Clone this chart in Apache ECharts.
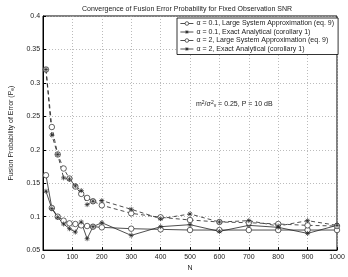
<!DOCTYPE html>
<html>
<head>
<meta charset="utf-8">
<script src="https://cdn.jsdelivr.net/npm/echarts@6/dist/echarts.min.js"></script>
<style>
html,body{margin:0;padding:0;background:#fff;}
#c{width:348px;height:277px;}
</style>
</head>
<body>
<div id="c"></div>
<script>
const N = [10,30,50,70,90,110,130,150,170,200,300,400,500,600,700,800,900,1000];
const a01Approx = [0.162,0.113,0.100,0.094,0.090,0.089,0.087,0.086,0.085,0.084,0.082,0.081,0.080,0.080,0.080,0.080,0.080,0.080];
const a01Exact  = [0.138,0.112,0.099,0.089,0.082,0.077,0.092,0.067,0.085,0.091,0.072,0.085,0.088,0.078,0.087,0.084,0.075,0.087];
const a2Approx  = [0.320,0.234,0.193,0.172,0.157,0.145,0.134,0.128,0.123,0.117,0.105,0.099,0.095,0.092,0.091,0.089,0.087,0.086];
const a2Exact   = [0.320,0.222,0.193,0.158,0.156,0.146,0.139,0.118,0.123,0.124,0.111,0.097,0.104,0.092,0.094,0.086,0.094,0.087];
const seriesNames = [
  'α = 0.1, Large System Approximation (eq. 9)',
  'α = 0.1, Exact Analytical (corollary 1)',
  'α = 2, Large System Approximation (eq. 9)',
  'α = 2, Exact Analytical (corollary 1)'
];
const titleText = 'Convergence of Fusion Error Probability for Fixed Observation SNR';

const FONT = '"Liberation Sans", Arial, sans-serif';
const STAR = 'path://M0,-5L0,5M-5,0L5,0M-3.6,-3.6L3.6,3.6M-3.6,3.6L3.6,-3.6';
const LC = '#222';

function pts(ys){ return N.map((n,i)=>[n, ys[i]]); }
function mk(name, ys, sym, dashed){
  const circle = sym === 'circle';
  return {
    name: name, type: 'line', data: pts(ys),
    symbol: circle ? 'circle' : STAR,
    symbolSize: circle ? 5.5 : 5,
    lineStyle: { color: LC, width: 0.8, type: dashed ? [4,3] : 'solid' },
    itemStyle: { color: circle ? '#fff' : LC, borderColor: LC, borderWidth: 0.7 },
    animation: false
  };
}

const chart = echarts.init(document.getElementById('c'), null, {renderer:'canvas'});
chart.setOption({
  backgroundColor: '#fff',
  animation: false,
  textStyle: { fontFamily: FONT },
  title: {
    text: titleText, left: 182, top: 1, textAlign: 'center',
    textStyle: { fontSize: 7, fontWeight: 'normal', color: '#222', fontFamily: FONT }
  },
  grid: { left: 32, right: 11, top: 16, bottom: 21, show: true, borderColor: '#000', borderWidth: 1, containLabel: false },
  legend: {
    orient: 'vertical', left: 177, top: 18,
    data: seriesNames,
    backgroundColor: '#fff', borderColor: '#000', borderWidth: 0.8,
    padding: [2, 4, 2, 3], itemGap: 1.5, itemWidth: 13, itemHeight: 4.5,
    itemStyle: { borderWidth: 0.7 },
    lineStyle: { width: 0.8, type: 'solid' },
    textStyle: { fontSize: 7, color: '#222', fontFamily: FONT, padding: [0,0,0,-2] }
  },
  xAxis: {
    type: 'value', min: 0, max: 1000, interval: 100,
    name: 'N', nameLocation: 'middle', nameGap: 13,
    nameTextStyle: { fontSize: 7, color: '#222' },
    axisLine: { show: true, lineStyle: { color: '#000', width: 1 } },
    axisTick: { show: true, inside: true, length: 3, lineStyle: { color: '#000' } },
    axisLabel: { fontSize: 7, color: '#222', margin: 3, formatter: v => String(v) },
    splitLine: { show: true, lineStyle: { color: '#aaa', width: 0.8, type: [1,2] } }
  },
  yAxis: {
    type: 'value', min: 0.05, max: 0.4, interval: 0.05,
    name: 'Fusion Probability of Error (P{sub|e})', nameLocation: 'middle', nameGap: 22,
    nameTextStyle: { fontSize: 7, color: '#222', rich: { sub: { fontSize: 5, verticalAlign: 'bottom', padding: [3,0,0,0] } } },
    axisLine: { show: true, lineStyle: { color: '#000', width: 1 } },
    axisTick: { show: true, inside: true, length: 3, lineStyle: { color: '#000' } },
    axisLabel: { fontSize: 7, color: '#222', margin: 3, formatter: v => String(+v.toFixed(2)) },
    splitLine: { show: true, lineStyle: { color: '#aaa', width: 0.8, type: [1,2] } }
  },
  graphic: [{
    type: 'text', left: 196, top: 100,
    style: {
      text: 'm{sup|2}/σ{sup|2}{sub|v} = 0.25, P = 10 dB',
      fontSize: 7, fill: '#222', fontFamily: FONT,
      rich: { sup: { fontSize: 5, verticalAlign: 'top', padding: [0,0,3,0] }, sub: { fontSize: 5, verticalAlign: 'bottom', padding: [3,0,0,0] } }
    }
  }],
  series: [
    mk(seriesNames[0], a01Approx, 'circle', false),
    mk(seriesNames[1], a01Exact, 'star', false),
    mk(seriesNames[2], a2Approx, 'circle', true),
    mk(seriesNames[3], a2Exact, 'star', true)
  ]
});
</script>
</body>
</html>
